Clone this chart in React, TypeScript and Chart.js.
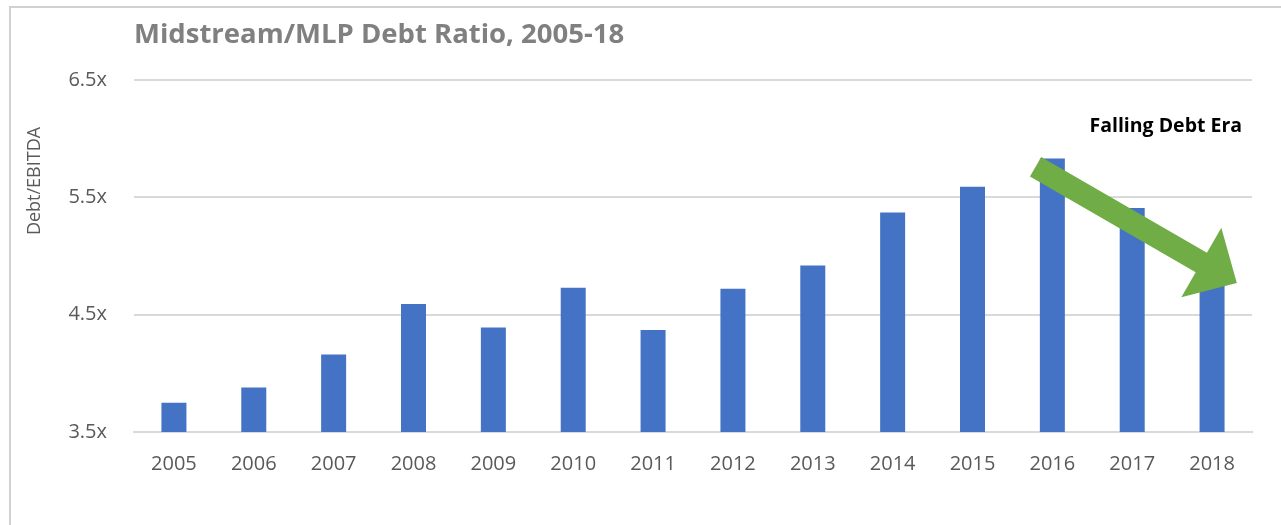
import React, { useEffect, useRef } from "react";
import { Chart, registerables } from "chart.js";

Chart.register(...registerables);

const categories = ["2005", "2006", "2007", "2008", "2009", "2010", "2011", "2012", "2013", "2014", "2015", "2016", "2017", "2018"];
const debtRatio = [3.75, 3.88, 4.16, 4.59, 4.39, 4.73, 4.37, 4.72, 4.92, 5.37, 5.59, 5.83, 5.41, 4.85];
const yTicks = [3.5, 4.5, 5.5, 6.5];
const titleText = "Midstream/MLP Debt Ratio, 2005-18";
const yAxisTitle = "Debt/EBITDA";
const annotationText = "Falling Debt Era";
// annotation anchors in data space (category index, value)
const annotationAnchor = { x: 12.42, y: 6.06 };
const arrowFrom = { x: 10.79, y: 5.76 };
const arrowTo = { x: 13.31, y: 4.77 };

const FONT = "'Open Sans', 'Noto Sans', sans-serif";

const decorPlugin = {
  id: "decor",
  beforeDraw(chart: any) {
    const ctx = chart.ctx;
    ctx.save();
    ctx.fillStyle = "#ffffff";
    ctx.fillRect(0, 0, chart.width, chart.height);
    ctx.strokeStyle = "#d0d0d0";
    ctx.lineWidth = 2;
    ctx.strokeRect(10, 7, chart.width + 40, chart.height + 40);
    // title
    ctx.fillStyle = "#808080";
    ctx.font = `bold 27.5px ${FONT}`;
    ctx.textAlign = "left";
    ctx.textBaseline = "alphabetic";
    ctx.fillText(titleText, 134, 43);
    // y axis title
    ctx.translate(35, 181);
    ctx.rotate(-Math.PI / 2);
    ctx.fillStyle = "#595959";
    ctx.font = `18px ${FONT}`;
    ctx.textAlign = "center";
    ctx.textBaseline = "middle";
    ctx.fillText(yAxisTitle, 0, 0);
    ctx.restore();
  },
  afterDatasetsDraw(chart: any) {
    const ctx = chart.ctx;
    const xs = chart.scales.x;
    const ys = chart.scales.y;
    const x0 = xs.getPixelForValue(arrowFrom.x);
    const y0 = ys.getPixelForValue(arrowFrom.y);
    const x1 = xs.getPixelForValue(arrowTo.x);
    const y1 = ys.getPixelForValue(arrowTo.y);
    const dx = x1 - x0;
    const dy = y1 - y0;
    const L = Math.hypot(dx, dy);
    const ux = dx / L;
    const uy = dy / L;
    const px = -uy;
    const py = ux;
    const sw = 11.25;
    const hw = 40;
    const hl = 41;
    const bx = x1 - ux * hl;
    const by = y1 - uy * hl;
    ctx.save();
    ctx.fillStyle = "#70AD47";
    ctx.beginPath();
    ctx.moveTo(x0 + px * sw, y0 + py * sw);
    ctx.lineTo(bx + px * sw, by + py * sw);
    ctx.lineTo(bx + px * hw, by + py * hw);
    ctx.lineTo(x1, y1);
    ctx.lineTo(bx - px * hw, by - py * hw);
    ctx.lineTo(bx - px * sw, by - py * sw);
    ctx.lineTo(x0 - px * sw, y0 - py * sw);
    ctx.closePath();
    ctx.fill();
    // annotation text
    ctx.fillStyle = "#000000";
    ctx.font = `bold 19.5px ${FONT}`;
    ctx.textAlign = "center";
    ctx.textBaseline = "alphabetic";
    ctx.fillText(annotationText, xs.getPixelForValue(annotationAnchor.x), ys.getPixelForValue(annotationAnchor.y));
    ctx.restore();
  },
};

export default function App() {
  const ref = useRef<HTMLCanvasElement | null>(null);
  useEffect(() => {
    if (!ref.current) return;
    const chart = new Chart(ref.current, {
      type: "bar",
      data: {
        labels: categories,
        datasets: [
          {
            label: "Debt/EBITDA",
            data: debtRatio,
            backgroundColor: "#4472C4",
            borderWidth: 0,
            categoryPercentage: 1,
            barPercentage: 0.313,
          },
        ],
      },
      options: {
        responsive: false,
        animation: false,
        devicePixelRatio: 1,
        layout: { padding: { top: 80, right: 29, left: 0, bottom: 0 } },
        plugins: {
          legend: { display: false },
          title: { display: false },
          tooltip: { enabled: false },
        },
        scales: {
          x: {
            grid: { display: false, drawTicks: false },
            border: { display: true, color: "#d9d9d9", width: 2 },
            ticks: { color: "#595959", font: { family: FONT, size: 20 }, padding: 20, maxRotation: 0 },
            afterFit: (s: any) => {
              s.height = 93;
            },
          },
          y: {
            min: 3.5,
            max: 6.5,
            afterBuildTicks: (s: any) => {
              s.ticks = yTicks.map((v) => ({ value: v }));
            },
            grid: { color: "#d9d9d9", lineWidth: 2, drawTicks: false },
            border: { display: false },
            ticks: {
              color: "#595959",
              font: { family: FONT, size: 20 },
              padding: 27,
              callback: (v: any) => Number(v).toFixed(1) + "x",
            },
            afterFit: (s: any) => {
              s.width = 134;
            },
          },
        },
      },
      plugins: [decorPlugin],
    });
    return () => chart.destroy();
  }, []);
  return (
    <canvas
      ref={ref}
      width={1281}
      height={525}
      style={{ position: "absolute", left: 0, top: 0, width: 1281, height: 525 }}
    />
  );
}
